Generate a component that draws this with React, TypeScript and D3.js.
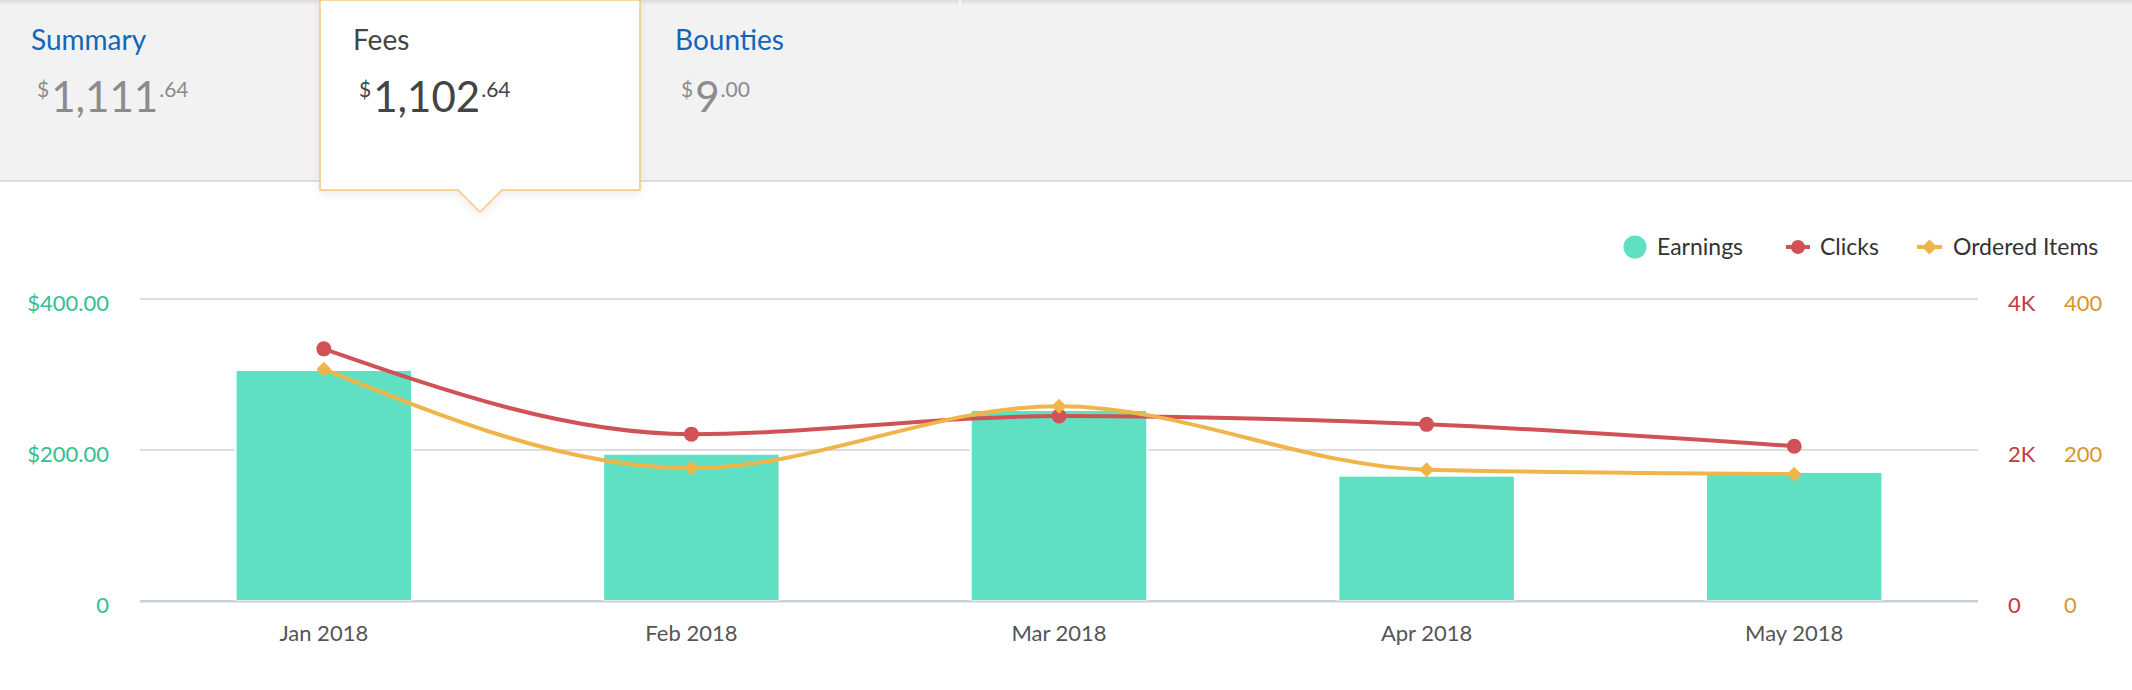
import React from "react";
import * as d3 from "d3";

const months = ["Jan 2018", "Feb 2018", "Mar 2018", "Apr 2018", "May 2018"];
const earnings = [306, 195, 253, 166, 171];
const clicks = [3340, 2210, 2450, 2340, 2050];
const orderedItems = [307, 176, 258, 174, 168];
const leftTicks = [0, 200, 400];
const clickTicks = [0, 2000, 4000];
const itemTicks = [0, 200, 400];
const tabTitles = ["Summary", "Fees", "Bounties"];
const tabWhole = ["1,111", "1,102", "9"];
const tabCents = [".64", ".64", ".00"];
const legendLabels = ["Earnings", "Clicks", "Ordered Items"];

const W = 2132;
const H = 690;
const FONT = "Lato, 'Open Sans', sans-serif";
const C_BAR = "#5fe0c3";
const C_RED = "#d05256";
const C_ORANGE = "#f0b54a";

export default function App() {
  const left = 140, right = 1978, top = 299, bottom = 601;
  const x = d3.scaleBand<string>().domain(months).range([left, right]).paddingInner(0.52).paddingOuter(0.26);
  const yL = d3.scaleLinear().domain([0, 400]).range([bottom, top]);
  const yC = d3.scaleLinear().domain([0, 4000]).range([bottom, top]);
  const yI = d3.scaleLinear().domain([0, 400]).range([bottom, top]);
  const cx = (m: string) => (x(m) as number) + x.bandwidth() / 2;

  const clickLine = d3.line<number>().x((_, i) => cx(months[i])).y((d) => yC(d)).curve(d3.curveMonotoneX);
  const itemLine = d3.line<number>().x((_, i) => cx(months[i])).y((d) => yI(d)).curve(d3.curveMonotoneX);
  const fmtMoney = (v: number) => (v === 0 ? "0" : "$" + d3.format(",.2f")(v));
  const fmtK = (v: number) => (v === 0 ? "0" : v / 1000 + "K");

  const tabX = [31, 353, 675];
  const diamond = (px: number, py: number, s: number) => `M${px},${py - s}L${px + s},${py}L${px},${py + s}L${px - s},${py}Z`;

  return (
    <div style={{ position: "absolute", left: 0, top: 0 }}>
      <svg width={W} height={H} style={{ display: "block", fontFamily: FONT }}>
        <defs>
          <linearGradient id="topShade" x1="0" y1="0" x2="0" y2="1">
            <stop offset="0" stopColor="#dcdcdc" />
            <stop offset="1" stopColor="#f2f2f2" />
          </linearGradient>
          <filter id="boxShadow" x="-10%" y="-10%" width="120%" height="130%">
            <feDropShadow dx="0" dy="3" stdDeviation="4" floodColor="#000" floodOpacity="0.08" />
          </filter>
        </defs>
        <rect x={0} y={0} width={W} height={H} fill="#fff" />
        {/* header */}
        <rect x={0} y={0} width={W} height={180} fill="#f2f2f2" />
        <rect x={0} y={0} width={W} height={5} fill="url(#topShade)" />
        <rect x={0} y={180} width={W} height={2} fill="#dddddd" />
        <rect x={959} y={0} width={2} height={180} fill="#f6f6f6" />
        <path
          d="M320,0V190H458L480,212L502,190H640V0Z"
          fill="#fff"
          stroke="#f6c87c"
          strokeWidth={1.5}
          filter="url(#boxShadow)"
        />
        {tabTitles.map((t, i) => {
          const active = i === 1;
          return (
            <g key={t}>
              <text x={tabX[i]} y={50} fontSize={28} fill={active ? "#444" : "#1166bb"}>
                {t}
              </text>
              <text x={tabX[i] + 6} y={112} fill={active ? "#444" : "#8c8c8c"}>
                <tspan fontSize={21} dy={-15}>$</tspan>
                <tspan fontSize={42} dy={15} dx={2}>{tabWhole[i]}</tspan>
                <tspan fontSize={21} dy={-15} dx={1}>{tabCents[i]}</tspan>
              </text>
            </g>
          );
        })}

        {/* legend */}
        <g fontSize={23} fill="#333">
          <circle cx={1635} cy={247} r={11.5} fill={C_BAR} />
          <text x={1657} y={247} dy="0.35em">{legendLabels[0]}</text>
          <line x1={1786} x2={1810} y1={247} y2={247} stroke={C_RED} strokeWidth={4} />
          <circle cx={1798} cy={247} r={7} fill={C_RED} />
          <text x={1820} y={247} dy="0.35em">{legendLabels[1]}</text>
          <line x1={1917} x2={1942} y1={247} y2={247} stroke={C_ORANGE} strokeWidth={4} />
          <path d={diamond(1929.5, 247, 7.5)} fill={C_ORANGE} />
          <text x={1953} y={247} dy="0.35em">{legendLabels[2]}</text>
        </g>

        {/* grid */}
        {leftTicks.map((t) => (
          <line
            key={"g" + t}
            x1={left}
            x2={right}
            y1={yL(t)}
            y2={yL(t)}
            stroke={t === 0 ? "#c6d1dd" : "#dddddd"}
            strokeWidth={2}
          />
        ))}
        {/* left axis labels */}
        {leftTicks.map((t) => (
          <text key={"l" + t} x={109} y={yL(t) + 4} dy="0.35em" textAnchor="end" fontSize={22} fill="#34c08f">
            {fmtMoney(t)}
          </text>
        ))}
        {clickTicks.map((t) => (
          <text key={"c" + t} x={2008} y={yC(t) + 4} dy="0.35em" fontSize={22} fill="#c23a41">
            {fmtK(t)}
          </text>
        ))}
        {itemTicks.map((t) => (
          <text key={"i" + t} x={2064} y={yI(t) + 4} dy="0.35em" fontSize={22} fill="#d8962b">
            {t}
          </text>
        ))}

        {/* bars */}
        {months.map((m, i) => (
          <rect
            key={m}
            x={x(m)}
            y={yL(earnings[i])}
            width={x.bandwidth()}
            height={yL(0) - yL(earnings[i])}
            fill={C_BAR}
            stroke="#fff"
            strokeWidth={2}
          />
        ))}
        <line x1={left} x2={right} y1={yL(0) + 0.5} y2={yL(0) + 0.5} stroke="#c6d1dd" strokeWidth={2} />

        {/* x labels */}
        {months.map((m) => (
          <text key={"x" + m} x={cx(m)} y={641} textAnchor="middle" fontSize={22} fill="#555">
            {m}
          </text>
        ))}

        {/* lines */}
        <path d={clickLine(clicks) || ""} fill="none" stroke={C_RED} strokeWidth={4} />
        <path d={itemLine(orderedItems) || ""} fill="none" stroke={C_ORANGE} strokeWidth={4} />
        {clicks.map((v, i) => (
          <circle key={"cm" + i} cx={cx(months[i])} cy={yC(v)} r={7.5} fill={C_RED} />
        ))}
        {orderedItems.map((v, i) => (
          <path key={"im" + i} d={diamond(cx(months[i]), yI(v), 7.5)} fill={C_ORANGE} />
        ))}
      </svg>
    </div>
  );
}
